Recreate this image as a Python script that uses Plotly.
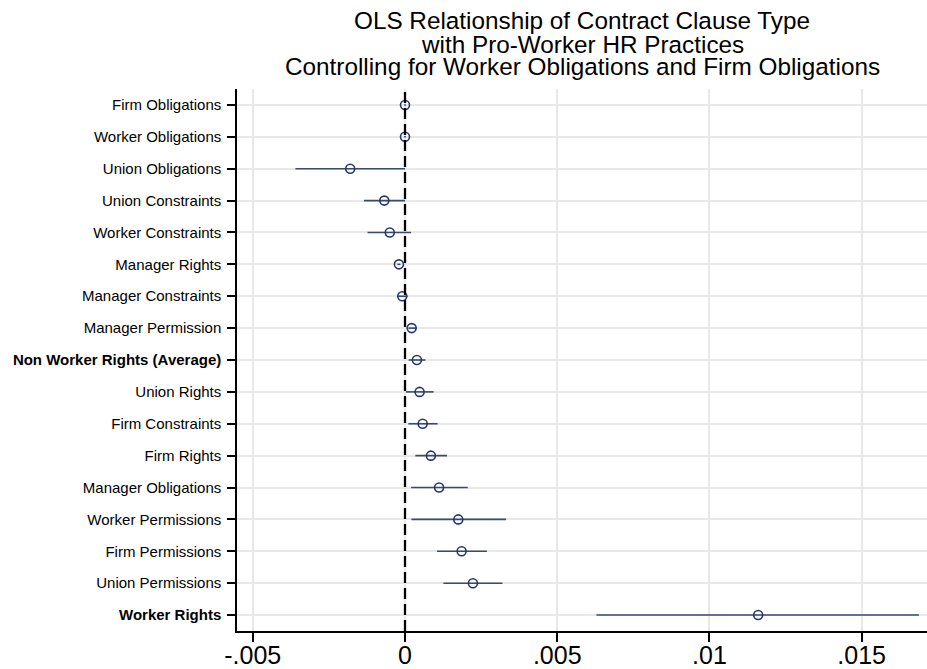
import plotly.graph_objects as go

categories = [
    "Firm Obligations", "Worker Obligations", "Union Obligations", "Union Constraints",
    "Worker Constraints", "Manager Rights", "Manager Constraints", "Manager Permission",
    "Non Worker Rights (Average)", "Union Rights", "Firm Constraints", "Firm Rights",
    "Manager Obligations", "Worker Permissions", "Firm Permissions", "Union Permissions",
    "Worker Rights",
]
estimates = [0.0, 0.0, -0.0018, -0.00068, -0.0005, -0.0002, -0.00009, 0.00022,
             0.00039, 0.00048, 0.00058, 0.00085, 0.00112, 0.00175, 0.00186, 0.00223, 0.0116]
ci_low = [-0.00003, -0.00003, -0.0036, -0.00135, -0.00123, -0.00025, -0.00024, 0.00011,
          0.00012, 0.00003, 0.00011, 0.00034, 0.0002, 0.00021, 0.00105, 0.00126, 0.00629]
ci_high = [0.00003, 0.00003, 0.0, 0.0, 0.0002, -0.00015, 0.00008, 0.00036,
           0.00067, 0.00094, 0.00107, 0.00138, 0.00206, 0.00332, 0.00269, 0.0032, 0.01688]
bold_labels = {"Non Worker Rights (Average)", "Worker Rights"}
x_tickvals = [-0.005, 0, 0.005, 0.01, 0.015]
x_ticktext = ["-.005", "0", ".005", ".01", ".015"]
title_lines = [
    "OLS Relationship of Contract Clause Type",
    "with Pro-Worker HR Practices",
    "Controlling for Worker Obligations and Firm Obligations",
]

ypos = list(range(len(categories)))
ticktext = [f"<b>{c}</b>" if c in bold_labels else c for c in categories]

fig = go.Figure()
fig.add_trace(go.Scatter(
    x=estimates, y=ypos, mode="markers",
    marker=dict(symbol="circle-open", size=9, color="#26386b", line=dict(width=1.6, color="#26386b")),
    error_x=dict(type="data", symmetric=False,
                 array=[h - e for h, e in zip(ci_high, estimates)],
                 arrayminus=[e - l for e, l in zip(estimates, ci_low)],
                 color="#3a4a6e", thickness=1.6, width=0),
    showlegend=False,
))

fig.add_shape(type="line", xref="x", yref="paper", x0=0, x1=0, y0=0, y1=1,
              line=dict(color="black", width=2.3, dash="11px,5px"), layer="above")

font_family = "Liberation Sans, Arial, sans-serif"
title_y = [1.1273, 1.0830, 1.0406]
for txt, yy in zip(title_lines, title_y):
    fig.add_annotation(text=txt, xref="paper", yref="paper", x=0.5, y=yy,
                       xanchor="center", yanchor="middle", showarrow=False,
                       font=dict(size=24.3, color="black", family=font_family))

fig.update_layout(
    width=927, height=669,
    margin=dict(l=237, r=0, t=89, b=38, autoexpand=False),
    paper_bgcolor="white", plot_bgcolor="white",
    font=dict(family=font_family, color="black"),
    xaxis=dict(range=[-0.005518, 0.017145], tickvals=x_tickvals, ticktext=x_ticktext,
               showgrid=True, gridcolor="#e8e8e8", gridwidth=1.5, zeroline=False,
               showline=True, linecolor="black", linewidth=1.5,
               ticks="outside", ticklen=9, tickwidth=1.5, tickcolor="black",
               ticklabelstandoff=-8,
               tickfont=dict(size=25, color="black")),
    yaxis=dict(range=[16.5, -0.5], tickvals=ypos, ticktext=ticktext,
               showgrid=True, gridcolor="#e8e8e8", gridwidth=1.5, zeroline=False,
               showline=True, linecolor="black", linewidth=1.5,
               ticks="outside", ticklen=8, tickwidth=1.5, tickcolor="black",
               ticklabelstandoff=3,
               tickfont=dict(size=15, color="black")),
)

fig.write_html("out.html", config={"displayModeBar": False},
               post_script="document.body.style.margin='0';document.body.style.overflow='hidden';")
